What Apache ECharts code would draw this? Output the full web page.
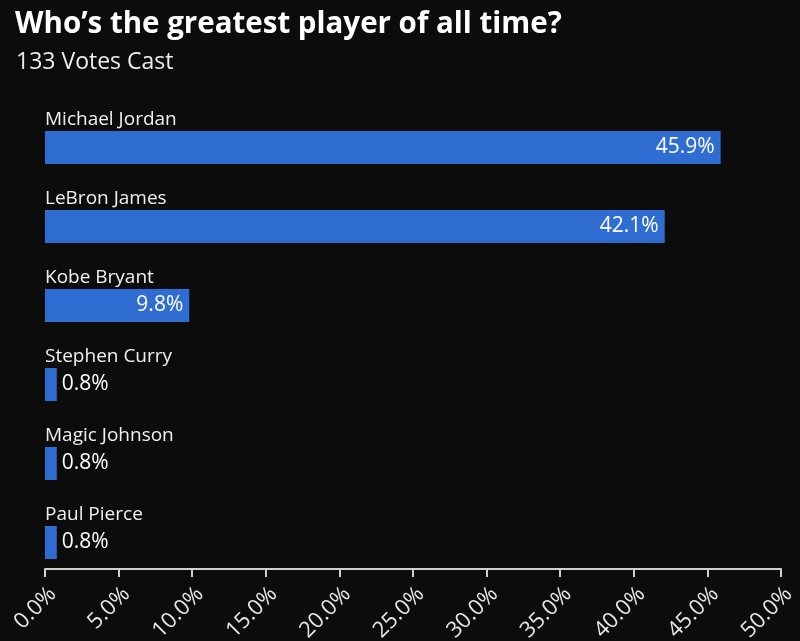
<!DOCTYPE html>
<html><head><meta charset="utf-8">
<script src="https://cdn.jsdelivr.net/npm/echarts@6/dist/echarts.min.js"></script>
<style>html,body{margin:0;padding:0;background:#0c0c0c}#c{width:800px;height:641px}</style>
</head><body><div id="c"></div>
<script>
const titleText = "Who\u2019s the greatest player of all time?";
const subtitleText = "133 Votes Cast";
const players = ["Michael Jordan","LeBron James","Kobe Bryant","Stephen Curry","Magic Johnson","Paul Pierce"];
const shares = [45.9, 42.1, 9.8, 0.8, 0.8, 0.8];
const xTicks = {min: 0, max: 50, interval: 5};

const chart = echarts.init(document.getElementById('c'));
const font = '"Open Sans", Roboto, sans-serif';
chart.setOption({
  backgroundColor: '#0c0c0c',
  textStyle: {fontFamily: font},
  title: [
    {text: titleText, left: 10, top: 5, textStyle: {color: '#fff', fontSize: 29.5, fontWeight: 'bold', fontFamily: font}},
    {text: subtitleText, left: 11, top: 46, textStyle: {color: '#eee', fontSize: 23, fontWeight: 'normal', fontFamily: font}}
  ],
  grid: {left: 45, right: 19, top: 108, height: 474, containLabel: false, outerBoundsMode: 'none'},
  xAxis: {
    type: 'value', min: xTicks.min, max: xTicks.max, interval: xTicks.interval,
    offset: -13,
    axisLine: {show: true, lineStyle: {color: '#d0d0d0', width: 2}},
    axisTick: {show: true, length: 8, lineStyle: {color: '#d0d0d0', width: 2}},
    splitLine: {show: false},
    axisLabel: {show: true, rotate: 45, margin: 14, verticalAlign: 'top', color: '#e6e6e6', fontSize: 22, fontFamily: font,
      formatter: '{value}.0%'}
  },
  yAxis: {
    type: 'category', data: players, inverse: true,
    axisLine: {show: false}, axisTick: {show: false},
    axisLabel: {inside: true, margin: 0, align: 'left', verticalAlign: 'bottom',
      padding: [0, 0, 18, 0], color: '#f0f0f0', fontSize: 19, fontFamily: font}
  },
  series: [{
    type: 'bar', barWidth: 33,
    itemStyle: {color: '#306dd2'},
    data: shares.map(v => ({
      value: v,
      label: v > 5 ? {position: 'insideRight', distance: 6} : {position: 'right', distance: 5}
    })),
    label: {show: true, color: '#fff', fontSize: 21, fontFamily: font,
      formatter: p => p.value.toFixed(1) + '%'}
  }]
});
</script></body></html>
